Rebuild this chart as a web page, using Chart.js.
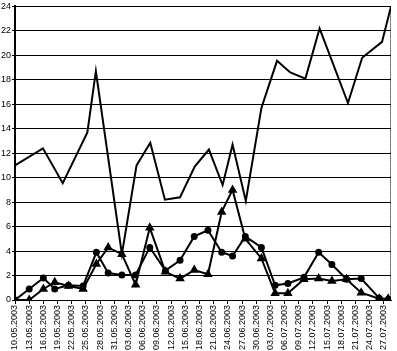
<!DOCTYPE html>
<html>
<head>
<meta charset="utf-8">
<script src="https://cdn.jsdelivr.net/npm/chart.js@4"></script>
<style>
  body { margin: 0; background: #fff; }
  canvas { display: block; }
</style>
</head>
<body>
<canvas id="chart1" width="397" height="351"></canvas>
<script>
// tick labels on the x axis, one every 3 days starting 10.05
const dateLabels = ['10.05.2003', '13.05.2003', '16.05.2003', '19.05.2003', '22.05.2003', '25.05.2003',
  '28.05.2003', '31.05.2003', '03.06.2003', '06.06.2003', '09.06.2003', '12.06.2003', '15.06.2003',
  '18.06.2003', '21.06.2003', '24.06.2003', '27.06.2003', '30.06.2003', '03.07.2003', '06.07.2003',
  '09.07.2003', '12.07.2003', '15.07.2003', '18.07.2003', '21.07.2003', '24.07.2003', '27.07.2003'];

// days after 10.05 for the top line
const lineDays = [0, 5.9, 10.1, 15.3, 17.1, 22.6, 25.7, 28.6, 31.7, 34.9, 38, 41, 43.9, 46, 48.8,
  52.1, 55.4, 58.2, 61.4, 64.4, 70.4, 73.4, 77.6, 79.5];
const lineValues = [11.0, 12.4, 9.55, 13.7, 18.7, 3.75, 11.0, 12.85, 8.2, 8.4, 10.9, 12.3, 9.4, 12.7, 8.1,
  15.7, 19.55, 18.6, 18.1, 22.2, 16.1, 19.8, 21.1, 24];

// days after 10.05 for the two marker series
const markerDays = [0, 3, 6, 8.4, 11.3, 14.4, 17.2, 19.7, 22.6, 25.5, 28.5, 31.8, 34.9, 37.9, 40.8,
  43.7, 46, 48.7, 52.1, 55, 57.7, 61.1, 64.2, 67, 70.1, 73.2, 77, 78.9];
const circleValues = [0, 0.9, 1.8, 0.9, 1.2, 1.15, 3.9, 2.2, 2.05, 2.05, 4.3, 2.4, 3.25, 5.2, 5.7,
  3.9, 3.6, 5.2, 4.3, 1.2, 1.35, 1.85, 3.9, 2.9, 1.7, 1.75, 0.15, 0.05];
const triangleValues = [0, 0, 0.9, 1.45, 1.15, 0.9, 2.95, 4.3, 3.75, 1.25, 5.9, 2.3, 1.75, 2.45, 2.1,
  7.2, 9.0, 5.0, 3.4, 0.55, 0.55, 1.7, 1.75, 1.55, 1.7, 0.6, 0.1, 0.1];

const yTicks = [0, 2, 4, 6, 8, 10, 12, 14, 16, 18, 20, 22, 24];

function points(days, values) {
  return days.map((d, i) => ({ x: d, y: values[i] }));
}

// dotted right edge of the plot area
const frame = {
  id: 'frame',
  afterDraw(chart) {
    const { ctx, chartArea } = chart;
    ctx.save();
    ctx.strokeStyle = '#000';
    ctx.lineWidth = 1;
    ctx.setLineDash([1, 1]);
    ctx.beginPath();
    ctx.moveTo(chartArea.right - 0.5, chartArea.top);
    ctx.lineTo(chartArea.right - 0.5, chartArea.bottom);
    ctx.stroke();
    ctx.restore();
  }
};

Chart.defaults.font.family = 'Liberation Sans';
Chart.defaults.color = '#000';

new Chart(document.getElementById('chart1'), {
  type: 'line',
  data: {
    datasets: [
      {
        data: points(lineDays, lineValues),
        borderColor: '#000',
        borderWidth: 2,
        pointRadius: 0,
        tension: 0
      },
      {
        data: points(markerDays, circleValues),
        borderColor: '#000',
        backgroundColor: '#000',
        borderWidth: 2,
        pointStyle: 'circle',
        pointRadius: 2.5,
        tension: 0
      },
      {
        data: points(markerDays, triangleValues),
        borderColor: '#000',
        backgroundColor: '#000',
        borderWidth: 2,
        pointStyle: 'triangle',
        pointRadius: 3.5,
        tension: 0
      }
    ]
  },
  plugins: [frame],
  options: {
    responsive: false,
    animation: false,
    devicePixelRatio: 1,
    layout: { padding: { top: 5, right: 2, left: 0, bottom: 0 } },
    plugins: { legend: { display: false }, tooltip: { enabled: false } },
    scales: {
      x: {
        type: 'linear',
        min: 0,
        max: 79.5,
        afterBuildTicks: axis => { axis.ticks = dateLabels.map((l, i) => ({ value: i * 3 })); },
        afterFit: scale => { scale.height = 51; },
        ticks: {
          autoSkip: false,
          minRotation: 90,
          maxRotation: 90,
          padding: 1,
          font: { size: 9 },
          callback: value => dateLabels[value / 3]
        },
        grid: { drawOnChartArea: false, color: '#000', tickLength: 4 },
        border: { color: '#000', width: 1 }
      },
      y: {
        min: 0,
        max: 24,
        afterBuildTicks: axis => { axis.ticks = yTicks.map(v => ({ value: v })); },
        afterFit: scale => { scale.width = 15; },
        ticks: { padding: 1, font: { size: 9 } },
        grid: { color: '#000', lineWidth: 1, tickLength: 3 },
        border: { color: '#000', width: 2 }
      }
    }
  }
});
</script>
</body>
</html>
